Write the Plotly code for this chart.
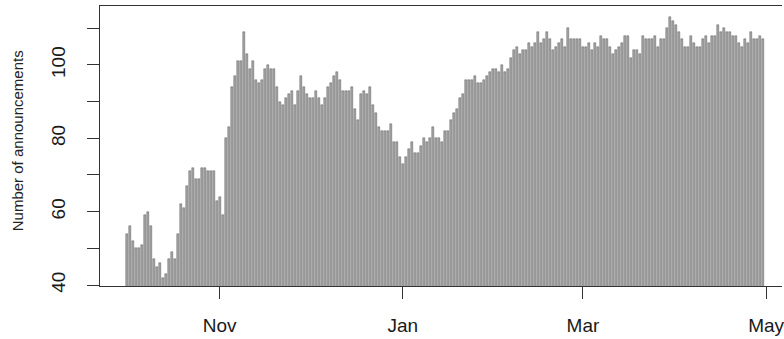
import pandas as pd
import plotly.graph_objects as go

# Daily announcement counts, one list per month (Oct 2019 - Apr 2020)
oct_counts = [54, 56, 52, 50, 50, 51, 59, 60, 56, 47, 45, 46, 42, 43, 47, 49,
              47, 54, 62, 61, 67, 71, 72, 69, 69, 72, 72, 71, 71, 71, 63]
nov_counts = [64, 59, 80, 83, 94, 97, 101, 101, 109, 103, 99, 101, 96, 95, 96,
              99, 100, 99, 99, 94, 90, 89, 91, 92, 93, 89, 93, 97, 94, 92]
dec_counts = [91, 91, 93, 91, 89, 91, 94, 95, 97, 98, 96, 93, 93, 93, 94, 88,
              85, 92, 93, 92, 94, 89, 87, 83, 82, 82, 82, 84, 79, 79, 75]
jan_counts = [73, 75, 77, 79, 76, 76, 78, 80, 79, 80, 83, 80, 80, 79, 82, 82,
              85, 87, 88, 91, 92, 96, 96, 96, 97, 95, 95, 96, 97, 98, 99]
feb_counts = [99, 98, 100, 98, 99, 102, 104, 105, 103, 104, 104, 106, 105, 106,
              109, 106, 107, 109, 107, 104, 105, 106, 107, 105, 110, 107, 107,
              107, 107]
mar_counts = [105, 105, 106, 104, 106, 105, 108, 107, 107, 105, 103, 104, 105,
              106, 108, 108, 102, 104, 104, 103, 108, 107, 107, 107, 108, 105,
              107, 107, 110, 113, 112]
apr_counts = [111, 109, 107, 105, 105, 108, 106, 105, 105, 107, 108, 106, 108,
              108, 111, 109, 110, 109, 109, 108, 108, 106, 105, 107, 106, 109,
              107, 107, 108, 107]

start_date = "2019-10-01"
tick_dates = ["2019-11-01", "2020-01-01", "2020-03-01", "2020-05-01"]
tick_labels = ["Nov", "Jan", "Mar", "May"]
y_major = [40, 60, 80, 100]
y_minor = [50, 70, 90, 110]

counts = (oct_counts + nov_counts + dec_counts + jan_counts + feb_counts
          + mar_counts + apr_counts)
dates = pd.date_range(start_date, periods=len(counts), freq="D")

DAY_MS = 86400000
x_lo = dates[0] - pd.Timedelta(days=8.87)
x_hi = dates[0] + pd.Timedelta(days=218.3)

INK = "#333333"
FONT = "Liberation Sans, Arial, Helvetica, sans-serif"

fig = go.Figure(
    go.Bar(
        x=dates,
        y=counts,
        width=0.72 * DAY_MS,
        marker=dict(color="#a6a6a6", line=dict(color="#505050", width=0.45)),
        hoverinfo="x+y",
    )
)

fig.update_layout(
    width=784,
    height=339,
    margin=dict(l=100, r=0, t=6, b=53),
    paper_bgcolor="white",
    plot_bgcolor="white",
    showlegend=False,
    font=dict(family=FONT, color="#1a1a1a", size=19),
    xaxis=dict(
        type="date",
        range=[x_lo, x_hi],
        tickmode="array",
        tickvals=tick_dates,
        ticktext=tick_labels,
        ticks="outside",
        ticklen=12,
        tickwidth=1,
        tickcolor=INK,
        showgrid=False,
        zeroline=False,
        showline=True,
        linecolor=INK,
        linewidth=1,
        mirror=True,
        ticklabelstandoff=10,
        ticklabeloverflow="allow",
        tickfont=dict(size=19),
    ),
    yaxis=dict(
        range=[39.73, 116.08],
        tickmode="array",
        tickvals=y_major,
        ticks="outside",
        ticklen=12,
        tickwidth=1,
        tickcolor=INK,
        tickangle=-90,
        minor=dict(tickvals=y_minor, ticks="outside", ticklen=12,
                   tickwidth=1, tickcolor=INK),
        showgrid=False,
        zeroline=False,
        showline=True,
        linecolor=INK,
        linewidth=1,
        ticklabelstandoff=14,
        tickfont=dict(size=19),
    ),
    bargap=0,
)

fig.add_annotation(
    text="Number of announcements",
    xref="paper", yref="paper",
    x=(17 - 100) / 684, y=(286 - 141) / 280,
    xanchor="center", yanchor="middle",
    textangle=-90,
    showarrow=False,
    font=dict(family=FONT, size=15, color="#222222"),
)

fig.write_html("out.html")
